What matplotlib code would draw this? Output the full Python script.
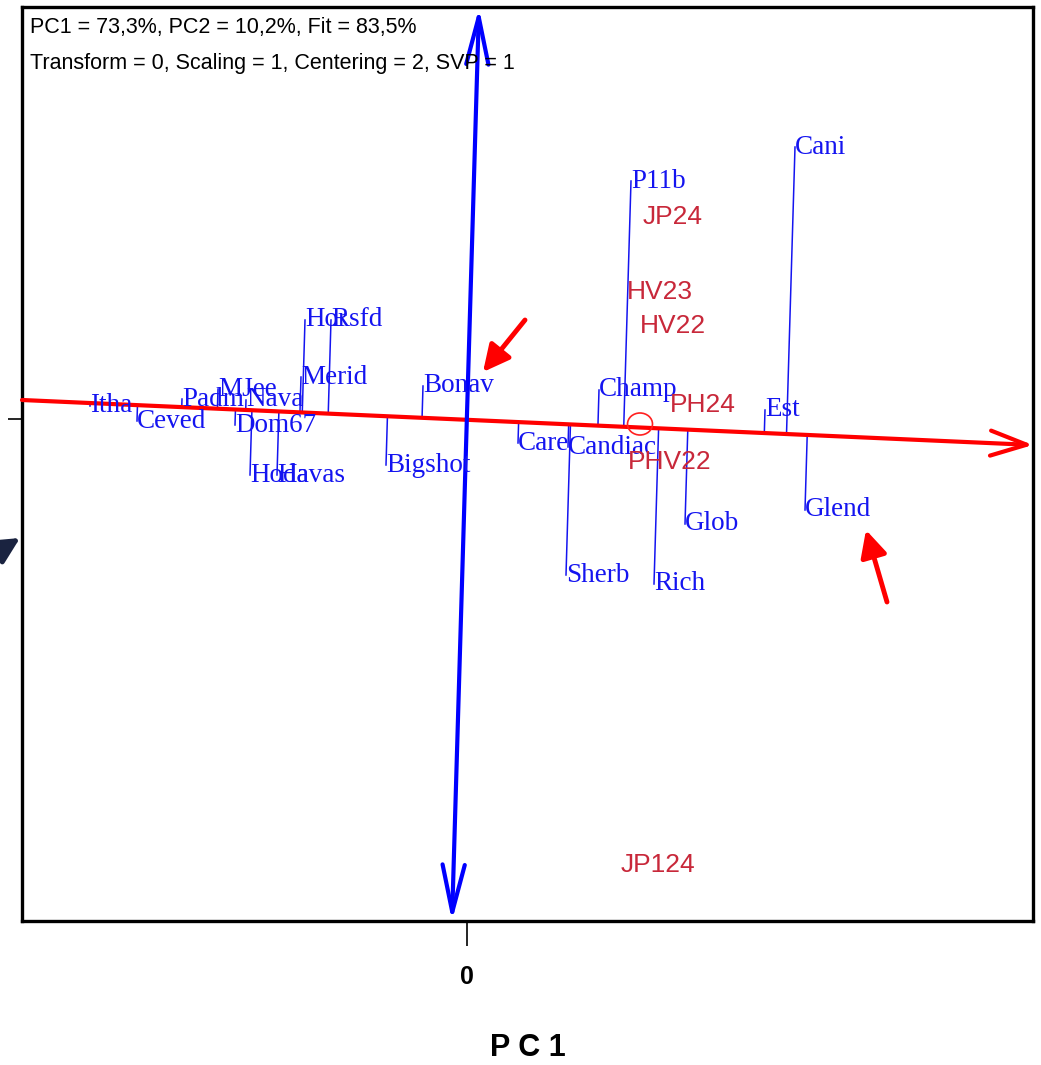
import numpy as np
import matplotlib.pyplot as plt
from matplotlib.patches import Ellipse, FancyArrowPatch

W, H = 1041, 1065

# genotype scores (blue labels)
genotypes = ['Itha', 'Ceved', 'Padm', 'MJee', 'Nava', 'Dom67', 'Hoda', 'Havas',
             'Hor', 'Rsfd', 'Merid', 'Bigshot', 'Bonav', 'Care', 'Candiac', 'Sherb',
             'Champ', 'P11b', 'Rich', 'Glob', 'Est', 'Cani', 'Glend']
geno_pc1 = [-3.77, -3.30, -2.85, -2.49, -2.21, -2.32, -2.17, -1.90,
            -1.62, -1.36, -1.66, -0.81, -0.44, 0.51, 1.01, 0.99,
            1.32, 1.64, 1.87, 2.18, 2.98, 3.28, 3.38]
geno_pc2 = [0.13, -0.02, 0.20, 0.30, 0.19, -0.06, -0.56, -0.56,
            0.99, 0.99, 0.42, -0.46, 0.33, -0.24, -0.28, -1.56,
            0.29, 2.38, -1.65, -1.05, 0.09, 2.72, -0.91]

# environment scores (red labels)
environments = ['JP24', 'HV23', 'HV22', 'PH24', 'PHV22', 'JP124']
env_pc1 = [1.76, 1.60, 1.73, 2.03, 1.61, 1.54]
env_pc2 = [2.02, 1.27, 0.93, 0.14, -0.43, -4.46]

# average environment and the two axes of the biplot
avg_env = (1.73, -0.05)
aea_start = (-4.45, 0.19)
aea_end = (5.66, -0.26)
atc_top = (0.12, 4.11)
atc_bottom = (-0.15, -5.02)

header = ['PC1 = 73,3%, PC2 = 10,2%, Fit = 83,5%',
          'Transform = 0, Scaling = 1, Centering = 2, SVP = 1']

blue = '#1414f0'
red_txt = '#c8283a'

fig = plt.figure(figsize=(W / 100, H / 100), dpi=100)
ax = fig.add_axes([22 / W, 1 - 921 / H, (1033 - 22) / W, (921 - 7) / H])
ax.set_xlim(-4.45, 5.66)
ax.set_ylim(-5.02, 4.12)
for s in ax.spines.values():
    s.set_linewidth(2.4)
    s.set_color('black')

# projection of genotypes onto the average environment axis, along the ordinate
m = (aea_end[1] - aea_start[1]) / (aea_end[0] - aea_start[0])
c = aea_start[1] - m * aea_start[0]
k = (atc_top[0] - atc_bottom[0]) / (atc_top[1] - atc_bottom[1])
for x, y in zip(geno_pc1, geno_pc2):
    t = (m * x + c - y) / (1 - k * m)
    ax.plot([x, x + k * t], [y, y + t], color=blue, lw=1.1, zorder=2)

# average environment axis
ax.annotate('', xy=aea_end, xytext=aea_start,
            arrowprops=dict(arrowstyle='->,head_length=1.3,head_width=0.45',
                            color='#ff0000', lw=3, mutation_scale=20,
                            shrinkA=0, shrinkB=0), zorder=3)
# ordinate
ax.annotate('', xy=atc_top, xytext=atc_bottom,
            arrowprops=dict(arrowstyle='<->,head_length=1.7,head_width=0.4',
                            color='#0000ff', lw=3, mutation_scale=20,
                            shrinkA=0, shrinkB=0), zorder=4)

ax.add_patch(Ellipse(avg_env, 0.25, 0.22, fill=False, edgecolor='#ff2020', lw=1.2, zorder=5))

for name, x, y in zip(genotypes, geno_pc1, geno_pc2):
    ax.text(x, y, name, color=blue, fontsize=19.5, family='Liberation Serif',
            ha='left', va='center', zorder=6)
for name, x, y in zip(environments, env_pc1, env_pc2):
    ax.text(x, y, name, color=red_txt, fontsize=19, family='Liberation Sans',
            ha='left', va='center', zorder=6)

ax.set_xticks([0])
ax.set_xticklabels(['0'], fontsize=18, fontweight='bold', family='Liberation Sans')
ax.set_yticks([0])
ax.set_yticklabels([])
ax.tick_params(axis='x', length=18, width=1.2, pad=14)
ax.tick_params(axis='y', length=10, width=1.2)
ax.set_xlabel('P C 1', fontsize=22, fontweight='bold', family='Liberation Sans', labelpad=31)

for i, line in enumerate(header):
    fig.text(30 / W, 1 - (27 + 36 * i) / H, line, fontsize=15.5,
             family='Liberation Sans', ha='left', va='center')

# highlight arrows
for tail, tip, col in [((525, 320), (483, 372), '#ff0000'),
                       ((887, 602), (866, 530), '#ff0000'),
                       ((-6, 554), (20, 538), '#1a2340')]:
    fig.patches.append(FancyArrowPatch(
        (tail[0], H - tail[1]), (tip[0], H - tip[1]), transform=None,
        arrowstyle='-|>,head_length=0.8,head_width=0.4', mutation_scale=20,
        color=col, lw=3.5, shrinkA=0, shrinkB=0))

fig.savefig('out.png', dpi=100)
